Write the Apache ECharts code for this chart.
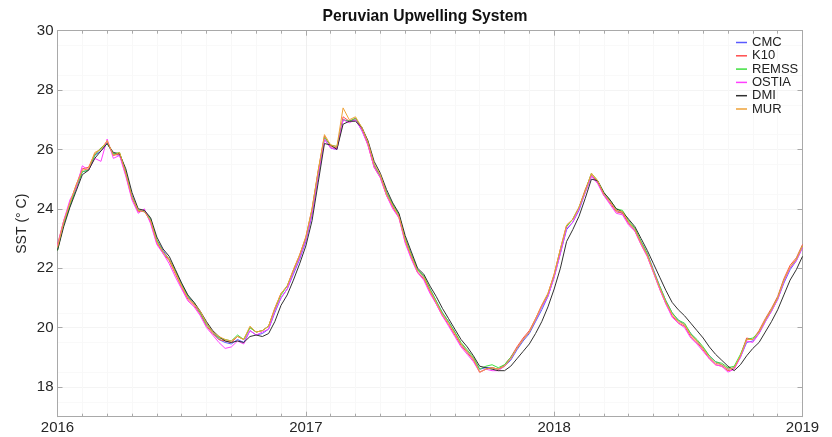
<!DOCTYPE html>
<html>
<head>
<meta charset="utf-8">
<script src="https://cdn.jsdelivr.net/npm/echarts@6/dist/echarts.min.js"></script>
<style>html,body{margin:0;padding:0;background:#fff}#c{width:832px;height:437px}</style>
</head>
<body>
<div id="c"></div>
<script>
// decimal-year sample positions
var years = [
2016,2016.025,2016.05,2016.075,2016.1,2016.125,2016.15,2016.175,2016.2,2016.225,
2016.25,2016.275,2016.3,2016.325,2016.35,2016.375,2016.4,2016.425,2016.45,2016.475,
2016.5,2016.525,2016.55,2016.575,2016.6,2016.625,2016.65,2016.675,2016.7,2016.725,
2016.75,2016.775,2016.8,2016.825,2016.85,2016.875,2016.9,2016.925,2016.95,2016.975,
2017,2017.025,2017.05,2017.075,2017.1,2017.125,2017.15,2017.175,2017.2,2017.225,
2017.25,2017.275,2017.3,2017.325,2017.35,2017.375,2017.4,2017.425,2017.45,2017.475,
2017.5,2017.525,2017.55,2017.575,2017.6,2017.625,2017.65,2017.675,2017.7,2017.725,
2017.75,2017.775,2017.8,2017.825,2017.85,2017.875,2017.9,2017.925,2017.95,2017.975,
2018,2018.025,2018.05,2018.075,2018.1,2018.125,2018.15,2018.175,2018.2,2018.225,
2018.25,2018.275,2018.3,2018.325,2018.35,2018.375,2018.4,2018.425,2018.45,2018.475,
2018.5,2018.525,2018.55,2018.575,2018.6,2018.625,2018.65,2018.675,2018.7,2018.725,
2018.75,2018.775,2018.8,2018.825,2018.85,2018.875,2018.9,2018.925,2018.95,2018.975,
2019];

var seriesNames = ['CMC','K10','REMSS','OSTIA','DMI','MUR'];

var CMC = [
22.65,23.5,24.1,24.7,25.25,25.3,25.8,25.95,26.2,25.85,
25.8,25.25,24.45,23.95,23.9,23.65,22.95,22.6,22.3,21.9,
21.45,21.05,20.8,20.5,20.15,19.85,19.6,19.5,19.45,19.6,
19.5,19.9,19.75,19.8,19.95,20.5,21.0,21.3,21.8,22.3,
22.9,23.8,25.1,26.35,26.05,26.0,27.0,26.95,27.0,26.65,
26.2,25.45,25.1,24.55,24.1,23.8,23.0,22.45,21.95,21.7,
21.3,20.9,20.5,20.2,19.85,19.45,19.2,18.95,18.6,18.65,
18.65,18.6,18.7,18.9,19.25,19.55,19.8,20.2,20.6,21.05,
21.7,22.5,23.3,23.55,23.95,24.55,25.1,24.9,24.5,24.25,
23.95,23.85,23.55,23.3,22.9,22.5,21.95,21.4,20.9,20.5,
20.25,20.1,19.8,19.55,19.3,19.05,18.85,18.75,18.6,18.65,
19.0,19.5,19.55,19.8,20.2,20.55,20.95,21.5,21.95,22.25,22.7];

var K10 = [
22.8,23.6,24.2,24.8,25.35,25.4,25.85,26.05,26.25,25.8,
25.85,25.15,24.35,23.9,23.95,23.55,22.85,22.5,22.25,21.8,
21.35,20.95,20.75,20.45,20.05,19.8,19.6,19.55,19.5,19.7,
19.6,20.0,19.85,19.9,20.05,20.65,21.15,21.4,21.95,22.45,
23.05,24.0,25.3,26.45,26.1,26.05,27.1,26.95,27.05,26.7,
26.15,25.4,25.05,24.45,24.05,23.7,22.9,22.35,21.85,21.65,
21.2,20.8,20.4,20.1,19.75,19.4,19.15,18.9,18.5,18.6,
18.65,18.6,18.75,19.0,19.35,19.65,19.9,20.3,20.75,21.15,
21.8,22.65,23.45,23.65,24.05,24.65,25.15,24.9,24.45,24.2,
23.9,23.85,23.5,23.25,22.8,22.4,21.85,21.3,20.8,20.4,
20.15,20.05,19.7,19.5,19.25,18.95,18.75,18.7,18.55,18.6,
19.05,19.65,19.6,19.9,20.3,20.65,21.05,21.65,22.1,22.35,22.8];

var REMSS = [
22.6,23.5,24.1,24.7,25.25,25.3,25.8,26.05,26.2,25.85,
25.9,25.25,24.4,23.95,23.95,23.65,22.95,22.55,22.3,21.9,
21.45,21.05,20.85,20.5,20.1,19.85,19.65,19.6,19.55,19.75,
19.6,20.0,19.85,19.9,20.05,20.6,21.1,21.4,21.9,22.4,
23.0,23.95,25.25,26.4,26.15,26.1,27.0,26.95,27.05,26.75,
26.25,25.5,25.1,24.55,24.15,23.8,23.0,22.45,21.95,21.75,
21.3,20.9,20.5,20.2,19.85,19.5,19.25,19.0,18.6,18.7,
18.75,18.65,18.75,19.0,19.3,19.6,19.85,20.25,20.7,21.1,
21.75,22.6,23.4,23.65,24.05,24.6,25.2,24.95,24.55,24.3,
24.0,23.95,23.6,23.35,22.9,22.5,21.9,21.4,20.9,20.5,
20.25,20.15,19.8,19.6,19.35,19.05,18.85,18.8,18.65,18.7,
19.1,19.6,19.65,19.85,20.25,20.6,21.0,21.6,22.0,22.3,22.75];

var OSTIA = [
22.75,23.6,24.3,24.7,25.45,25.3,25.7,25.6,26.35,25.7,
25.8,25.1,24.3,23.85,24.0,23.5,22.8,22.5,22.15,21.7,
21.3,20.9,20.7,20.4,20.0,19.75,19.5,19.3,19.35,19.55,
19.45,19.9,19.75,19.85,19.95,20.55,21.0,21.3,21.85,22.35,
22.95,23.85,25.15,26.35,26.05,26.0,27.0,26.9,27.0,26.65,
26.15,25.4,25.05,24.45,24.0,23.7,22.85,22.3,21.85,21.6,
21.15,20.8,20.4,20.05,19.7,19.35,19.1,18.85,18.5,18.6,
18.55,18.55,18.7,18.95,19.3,19.6,19.85,20.25,20.7,21.05,
21.7,22.5,23.35,23.55,24.0,24.55,25.1,24.85,24.45,24.15,
23.85,23.8,23.45,23.25,22.8,22.4,21.85,21.3,20.8,20.35,
20.15,20.0,19.65,19.45,19.2,18.95,18.75,18.7,18.5,18.6,
19.0,19.55,19.5,19.8,20.2,20.55,20.95,21.55,22.0,22.25,22.7];

var DMI = [
22.6,23.4,24.05,24.6,25.15,25.3,25.7,25.95,26.2,25.9,
25.85,25.35,24.55,24.0,23.95,23.7,23.05,22.65,22.4,21.95,
21.5,21.1,20.85,20.55,20.2,19.9,19.7,19.55,19.5,19.55,
19.5,19.7,19.75,19.7,19.8,20.2,20.75,21.1,21.6,22.15,
22.75,23.6,24.9,26.2,26.15,26.0,26.85,26.95,26.95,26.75,
26.3,25.6,25.2,24.65,24.2,23.85,23.1,22.55,22.0,21.8,
21.4,21.05,20.65,20.3,19.95,19.6,19.35,19.05,18.7,18.65,
18.6,18.55,18.55,18.7,18.95,19.2,19.45,19.8,20.2,20.7,
21.3,22.0,22.9,23.3,23.75,24.35,25.0,24.95,24.55,24.3,
24.0,23.9,23.65,23.4,23.0,22.6,22.15,21.7,21.25,20.85,
20.6,20.4,20.15,19.9,19.65,19.35,19.1,18.9,18.7,18.55,
18.75,19.05,19.3,19.5,19.85,20.2,20.6,21.1,21.6,21.95,22.4];

var MUR = [
22.7,23.55,24.2,24.8,25.3,25.35,25.9,26.0,26.3,25.8,
25.9,25.2,24.4,23.95,23.9,23.6,22.9,22.55,22.3,21.85,
21.4,21.0,20.8,20.55,20.15,19.85,19.7,19.6,19.55,19.7,
19.6,20.05,19.85,19.9,20.05,20.65,21.15,21.4,21.95,22.45,
23.05,24.0,25.3,26.5,26.15,26.1,27.4,27.0,27.1,26.75,
26.25,25.5,25.15,24.5,24.1,23.75,22.95,22.4,21.9,21.7,
21.25,20.85,20.45,20.15,19.8,19.45,19.2,18.95,18.5,18.6,
18.65,18.6,18.7,18.95,19.3,19.6,19.85,20.3,20.75,21.15,
21.8,22.65,23.45,23.65,24.05,24.6,25.2,24.95,24.5,24.25,
23.95,23.9,23.55,23.3,22.85,22.45,21.9,21.35,20.85,20.45,
20.2,20.1,19.75,19.55,19.3,19.0,18.8,18.75,18.6,18.65,
19.05,19.6,19.6,19.85,20.25,20.6,21.0,21.6,22.05,22.3,22.75];

var yTicks = [18,20,22,24,26,28,30];
var xTicks = [2016,2017,2018,2019];

var values = [CMC,K10,REMSS,OSTIA,DMI,MUR];
var colors = ['#5a5aff','#ff4d4d','#3fe03f','#ff3fff','#303030','#eea238'];

function pairs(arr){ return arr.map(function(v,i){ return [years[i], v]; }); }

var FONT = 'Liberation Sans, Arial, sans-serif';
var axisColor = '#a9a9a9';

var chart = echarts.init(document.getElementById('c'), null, {renderer:'canvas'});
chart.setOption({
  animation:false,
  backgroundColor:'#fff',
  title:{text:'Peruvian Upwelling System', left:420, top:4, textAlign:'center',
    textStyle:{fontFamily:FONT, fontSize:15.7, fontWeight:'bold', color:'#111'}},
  legend:{data:seriesNames, orient:'vertical', left:731, top:31, icon:'rect',
    itemWidth:11, itemHeight:1.5, itemGap:0.3,
    textStyle:{fontFamily:FONT, fontSize:13, color:'#222', lineHeight:13}},
  grid:{left:57.5, right:29.5, top:30.7, bottom:20.3, containLabel:false},
  xAxis:[{
    type:'value', min:2016, max:2019, interval:1,
    axisLine:{show:true, onZero:false, lineStyle:{color:axisColor}},
    axisTick:{show:true, inside:true, length:5, lineStyle:{color:axisColor}},
    minorTick:{show:true, splitNumber:10, length:3, lineStyle:{color:axisColor}},
    axisLabel:{color:'#262626', fontSize:15, fontFamily:FONT, margin:4,
      formatter:function(v){ return xTicks.indexOf(v)>=0 ? String(v) : ''; }},
    splitLine:{show:true, lineStyle:{color:'#efefef'}},
    minorSplitLine:{show:true, lineStyle:{color:'#f8f8f8'}}
  },{
    type:'value', min:2016, max:2019, interval:1, position:'top',
    axisLine:{show:true, onZero:false, lineStyle:{color:axisColor}},
    axisTick:{show:true, inside:true, length:5, lineStyle:{color:axisColor}},
    minorTick:{show:true, splitNumber:10, length:3, lineStyle:{color:axisColor}},
    axisLabel:{show:false}, splitLine:{show:false}
  }],
  yAxis:[{
    type:'value', min:17, max:30, interval:1,
    name:'SST (° C)', nameLocation:'middle', nameGap:28, nameRotate:90, nameMoveOverlap:false,
    nameTextStyle:{color:'#262626', fontSize:14, fontFamily:FONT},
    axisLine:{show:true, onZero:false, lineStyle:{color:axisColor}},
    axisTick:{show:true, inside:true, length:5, customValues:yTicks, lineStyle:{color:axisColor}},
    axisLabel:{color:'#262626', fontSize:15, fontFamily:FONT, margin:4, customValues:yTicks,
      formatter:function(v){ return String(v); }},
    splitLine:{show:true, lineStyle:{color:'#f4f4f4'}},
    minorTick:{show:false, splitNumber:2},
    minorSplitLine:{show:true, lineStyle:{color:'#f9f9f9'}}
  },{
    type:'value', min:17, max:30, interval:1, position:'right',
    axisLine:{show:true, onZero:false, lineStyle:{color:axisColor}},
    axisTick:{show:true, inside:true, length:5, customValues:yTicks, lineStyle:{color:axisColor}},
    axisLabel:{show:false}, splitLine:{show:false}
  }],
  series: seriesNames.map(function(n,i){
    return {name:n, type:'line', xAxisIndex:0, yAxisIndex:0, data:pairs(values[i]),
      showSymbol:false, symbol:'none', smooth:false,
      lineStyle:{color:colors[i], width:1}, itemStyle:{color:colors[i]}, z:2+i};
  })
});
</script>
</body>
</html>
